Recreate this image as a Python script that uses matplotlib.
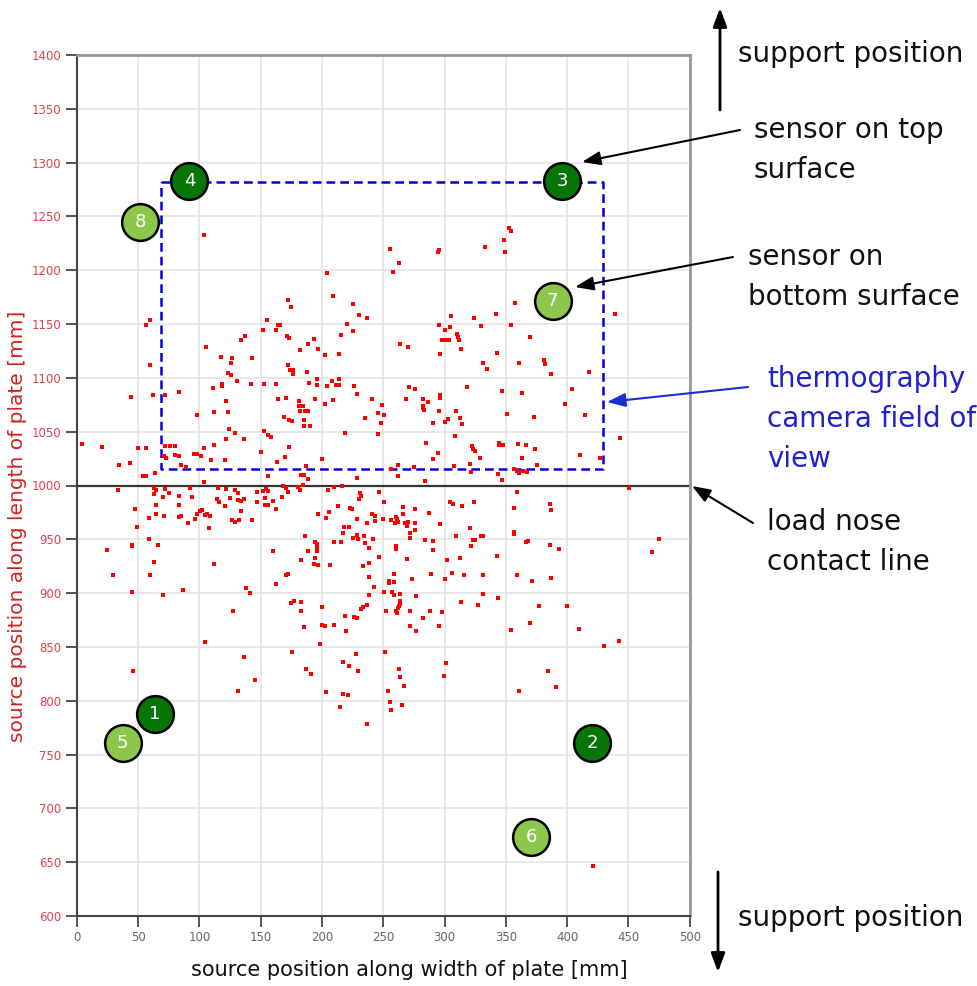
import matplotlib.pyplot as plt
import numpy as np

W, H = 978, 986

# located acoustic emission sources [mm]: (position along width, position along length)
events_upper_left = [
    (103.8, 1232.5), (60.0, 1153.7), (56.2, 1148.8), (105.4, 1128.5), (60.0, 1112.0), (134.0, 1135.6),
    (137.3, 1139.3), (155.4, 1153.7), (152.2, 1144.8), (162.7, 1144.8), (163.8, 1149.0), (117.8, 1119.6),
    (126.8, 1118.4), (125.4, 1114.0), (143.0, 1118.4), (123.4, 1104.6), (126.0, 1102.8), (131.0, 1097.0),
    (118.6, 1094.0), (118.6, 1092.5), (142.0, 1094.5), (152.6, 1094.5), (162.4, 1094.5), (111.5, 1090.5),
    (44.6, 1081.9), (62.2, 1084.0), (72.2, 1084.0), (83.2, 1086.5), (121.9, 1078.5), (163.8, 1080.4),
    (98.4, 1065.6), (111.6, 1068.7), (123.0, 1068.7), (123.8, 1052.5),
    (4.3, 1038.3), (20.5, 1035.6), (34.3, 1019.0), (43.8, 1021.2), (50.0, 1034.4), (56.2, 1034.4),
    (53.8, 1009.2), (56.2, 1008.6), (64.0, 1011.7), (72.2, 1036.5), (76.2, 1037.1), (80.5, 1037.1),
    (70.8, 1027.0), (72.4, 1026.0), (80.0, 1028.2), (83.2, 1027.0), (85.4, 1019.3), (89.2, 1016.9),
    (96.0, 1029.0), (98.1, 1029.0), (101.4, 1027.0), (103.8, 1034.4), (111.6, 1037.4), (109.7, 1023.9),
    (120.8, 1023.9), (121.9, 1043.6), (129.2, 1049.0), (136.8, 1043.6), (150.5, 1031.3), (152.4, 1050.3),
    (156.2, 1047.2), (158.1, 1044.8), (155.7, 1009.2), (163.2, 1021.5), (103.5, 1003.0),
]

events_lower_left = [
    (33.5, 995.7), (63.2, 997.5), (64.3, 995.7), (71.6, 997.0), (75.1, 993.3), (63.2, 992.0),
    (70.5, 989.6), (83.2, 989.9), (92.7, 997.9), (94.3, 989.6), (83.2, 982.2), (64.3, 981.6),
    (47.8, 977.9), (64.3, 973.9), (59.2, 969.6), (71.4, 972.0), (83.5, 970.9), (85.4, 972.0),
    (91.1, 964.7), (96.8, 969.0), (98.1, 973.3), (100.8, 976.0), (102.4, 977.3), (104.3, 972.4),
    (106.2, 973.3), (108.6, 971.8), (107.8, 960.4), (48.9, 961.0), (115.1, 997.9), (114.0, 987.7),
    (116.4, 984.7), (121.6, 996.3), (120.5, 981.3), (125.1, 988.3), (129.2, 995.7), (131.1, 993.3),
    (134.1, 985.3), (131.4, 986.5), (136.5, 987.7), (134.1, 976.7), (127.0, 967.5), (128.9, 966.3),
    (132.4, 967.5), (142.8, 967.5), (146.6, 993.9), (147.2, 984.4), (152.0, 994.5), (154.1, 996.3),
    (155.7, 994.5), (153.2, 988.3), (159.7, 985.9), (153.5, 981.6), (155.7, 982.2), (162.2, 977.9),
    (58.9, 950.3), (45.4, 945.1), (45.4, 943.6), (66.2, 945.1), (24.3, 940.5), (63.0, 928.8),
    (111.6, 927.3), (29.7, 916.6), (60.0, 916.6), (160.0, 939.3), (162.7, 908.9), (45.4, 901.2),
    (70.5, 898.2), (86.5, 902.5), (137.8, 904.9), (141.0, 900.0), (127.8, 883.7), (46.2, 828.1),
]

events_upper_mid = [
    (255.4, 1219.8), (294.6, 1217.3), (295.4, 1218.5), (262.9, 1207.1), (258.3, 1198.8), (203.8, 1197.2),
    (333.0, 1221.3), (172.0, 1172.5), (174.5, 1165.4), (208.9, 1176.5), (225.0, 1168.8), (230.4, 1158.6),
    (237.1, 1155.6), (220.7, 1150.0), (225.0, 1143.2), (215.9, 1139.5), (165.9, 1149.0), (171.2, 1139.2),
    (173.4, 1137.0), (193.3, 1135.8), (188.7, 1131.2), (181.7, 1125.6), (197.0, 1126.5), (202.7, 1121.3),
    (214.0, 1122.5), (172.0, 1112.0), (174.2, 1107.7), (176.3, 1107.7), (176.6, 1103.4), (187.4, 1105.9),
    (196.0, 1099.1), (189.8, 1095.4), (196.0, 1093.5), (204.0, 1092.3), (207.8, 1097.2), (213.7, 1098.8),
    (211.6, 1093.2), (213.7, 1093.2), (226.0, 1092.6), (228.5, 1084.9), (240.6, 1080.2), (208.6, 1079.6),
    (202.7, 1075.3), (194.1, 1080.2), (170.4, 1081.5), (181.5, 1078.7), (181.5, 1073.8), (184.7, 1073.8),
    (188.4, 1069.4), (186.3, 1068.8), (181.7, 1069.1), (169.3, 1063.2), (173.4, 1060.5), (175.6, 1059.6),
    (185.5, 1060.8), (185.5, 1055.2), (190.6, 1055.2), (249.2, 1074.4), (245.4, 1067.6), (250.8, 1065.1),
    (248.1, 1057.7), (235.2, 1062.3), (263.7, 1131.2), (270.4, 1128.4), (295.7, 1148.8), (304.6, 1147.5),
    (305.6, 1157.7), (300.3, 1144.8), (298.0, 1134.9), (300.0, 1134.9), (302.2, 1134.9), (304.0, 1134.9),
    (310.2, 1140.7), (311.0, 1137.7), (311.8, 1134.9), (313.8, 1126.5), (296.0, 1122.2), (323.7, 1155.6),
    (329.6, 1147.8), (331.2, 1114.2), (334.4, 1108.3), (271.2, 1091.4), (276.3, 1090.1), (268.3, 1080.0),
    (282.3, 1080.6), (286.6, 1077.5), (296.6, 1083.7), (295.9, 1081.0), (318.5, 1091.4), (282.3, 1074.0),
    (282.8, 1071.8), (283.3, 1070.0), (295.2, 1069.4), (309.5, 1069.1), (312.5, 1062.3), (300.3, 1059.3),
    (303.0, 1061.4), (290.3, 1057.7), (314.4, 1056.8),
    (173.2, 1035.6), (170.0, 1026.4), (199.7, 1024.2), (218.4, 1049.1), (245.4, 1047.9), (186.8, 1017.8),
    (183.0, 1009.5), (185.7, 1009.8), (188.9, 1006.1), (184.6, 1000.9), (228.6, 1007.1), (256.5, 1015.3),
    (262.2, 1019.0), (262.2, 1008.6), (275.4, 1017.2), (284.6, 1039.9), (294.9, 1030.1), (290.8, 1024.5),
    (284.0, 1004.0), (308.1, 1017.8), (308.4, 1046.0), (321.1, 1019.6), (321.9, 1012.9), (322.8, 1036.8),
    (323.6, 1034.0), (324.6, 1032.0), (328.6, 1025.2),
]

events_upper_right = [
    (352.3, 1239.1), (354.5, 1236.7), (348.5, 1228.3), (349.6, 1216.5), (357.8, 1169.7), (354.5, 1149.5),
    (341.7, 1159.4), (369.7, 1138.0), (343.0, 1123.1), (360.7, 1113.8), (380.9, 1116.9), (382.3, 1112.9),
    (386.9, 1103.9), (417.9, 1105.8), (439.1, 1159.4), (346.6, 1087.8), (362.9, 1085.6), (350.7, 1066.7),
    (373.3, 1063.6), (403.7, 1089.6), (398.0, 1076.0), (414.9, 1065.8), (443.5, 1044.0), (410.3, 1028.2),
    (426.9, 1025.8), (344.1, 1039.7), (344.1, 1037.5), (347.7, 1037.5), (359.7, 1038.8), (366.5, 1037.5),
    (374.1, 1033.8), (363.5, 1025.8), (375.7, 1018.9), (343.3, 1010.9), (346.6, 1005.0), (356.4, 1015.5),
    (359.1, 1013.3), (360.7, 1011.2), (363.7, 1013.3), (367.6, 1012.7),
]

events_lower_mid = [
    (168.4, 999.4), (170.5, 997.9), (172.7, 994.2), (167.8, 989.6), (180.8, 998.8), (182.4, 995.7),
    (205.1, 995.7), (209.7, 998.8), (216.0, 999.4),
    (230.8, 993.3), (231.6, 990.2), (230.5, 987.7), (246.2, 993.6), (250.8, 984.7), (213.0, 981.3),
    (223.0, 979.1), (224.1, 977.9), (205.4, 975.2), (196.8, 973.9), (203.2, 970.2), (228.6, 968.7),
    (240.8, 973.6), (243.0, 971.2), (243.5, 966.9), (236.5, 964.7), (250.0, 969.3), (256.0, 968.0),
    (260.0, 970.5), (261.4, 968.5), (262.0, 966.0), (259.2, 965.6), (265.9, 980.0), (265.9, 973.6),
    (275.7, 978.5), (268.1, 965.6), (270.5, 966.3), (269.5, 962.6), (276.0, 965.6), (276.0, 958.3),
    (271.6, 955.8), (271.6, 950.9), (287.0, 974.8), (296.5, 963.8), (304.6, 984.7), (306.5, 983.1),
    (314.3, 981.3), (324.3, 984.7), (320.8, 960.7), (309.5, 953.4), (321.6, 944.2), (323.5, 949.1),
    (325.1, 949.1), (329.7, 953.4), (331.6, 953.4), (217.6, 961.0), (221.9, 961.0), (217.3, 955.5),
    (209.7, 947.2), (215.9, 947.2), (225.7, 950.9), (228.4, 954.0), (229.5, 950.3), (234.6, 953.4),
    (241.4, 950.3), (235.2, 946.3), (238.6, 942.0), (260.3, 943.6), (260.3, 941.1), (246.2, 933.4),
    (269.7, 931.9), (283.8, 949.4), (290.5, 948.5), (290.5, 940.5), (302.2, 931.0), (312.4, 932.5),
    (186.5, 953.4), (194.6, 947.2), (196.2, 946.0), (196.0, 942.3), (196.0, 938.7), (188.6, 939.3),
    (194.0, 932.5), (193.5, 927.3), (197.0, 925.8), (183.0, 931.0), (206.2, 926.4), (233.2, 924.8),
    (238.6, 928.2), (238.1, 915.3), (170.5, 917.2), (172.4, 917.8), (242.2, 906.1), (238.6, 898.2),
    (258.4, 917.8), (254.9, 911.7), (254.9, 909.8), (258.9, 910.1), (273.8, 912.9), (288.9, 917.8),
    (300.0, 913.2), (306.2, 919.0), (315.9, 916.9), (331.1, 916.6), (250.3, 900.6), (257.3, 900.6),
    (258.6, 898.2), (263.5, 899.1), (277.0, 897.2), (263.5, 892.6), (263.5, 890.2), (262.7, 888.3),
    (260.3, 883.4), (261.4, 881.6), (262.4, 885.9), (252.2, 883.4), (233.8, 886.8), (236.5, 888.7),
    (231.6, 885.3), (226.5, 878.2), (228.9, 877.3), (218.9, 878.5), (199.7, 887.4), (174.6, 890.8),
    (177.0, 892.6), (183.0, 892.0), (183.0, 883.7), (209.5, 870.6), (200.0, 870.0), (202.7, 869.7),
    (185.4, 868.1), (219.7, 865.0), (271.6, 883.7), (271.6, 869.3), (276.5, 865.0), (282.2, 877.3),
    (288.1, 883.7), (297.6, 882.2), (295.4, 869.3), (313.2, 892.0), (327.3, 888.7), (331.1, 899.1),
    (104.6, 854.6), (175.4, 845.4), (198.6, 852.8), (136.1, 840.2), (145.6, 819.0), (131.1, 809.2),
    (186.6, 829.8), (190.7, 824.5), (216.9, 835.9), (222.4, 831.9), (228.1, 843.9), (229.2, 827.6),
    (203.0, 808.0), (216.9, 806.1), (221.6, 805.2), (215.0, 794.5), (236.9, 778.2), (251.1, 845.4),
    (263.1, 829.8), (263.9, 822.1), (266.7, 814.1), (254.1, 809.2), (255.2, 798.8), (256.3, 791.1),
    (265.6, 796.3), (301.4, 834.7), (299.7, 823.3),
]

events_lower_right = [
    (358.8, 994.1), (450.8, 997.8), (356.7, 978.7), (356.7, 957.1), (356.7, 954.6), (366.5, 947.8),
    (367.8, 948.1), (386.3, 982.4), (386.9, 976.9), (386.3, 944.8), (393.7, 941.4), (343.1, 934.9),
    (358.8, 917.3), (371.1, 911.4), (386.9, 913.9), (343.9, 895.4), (377.3, 888.0), (400.2, 888.0),
    (475.3, 950.0), (469.6, 938.3), (354.3, 865.3), (370.0, 872.5), (410.0, 866.3), (430.4, 851.3),
    (442.5, 855.6), (384.6, 828.1), (360.9, 809.4), (391.1, 812.8), (421.0, 646.6),
]

# sensors 1-4 on top surface, 5-8 on bottom surface
sensor_ids = ['1', '2', '3', '4', '5', '6', '7', '8']
sensor_x = [63.4, 420.3, 395.9, 91.8, 37.5, 370.8, 388.2, 51.6]
sensor_y = [788.1, 761.2, 1283.0, 1283.0, 761.2, 673.0, 1171.7, 1244.4]
sensor_face = ['top', 'top', 'top', 'top', 'bottom', 'bottom', 'bottom', 'bottom']

# thermography camera field of view: x from, x to, y from, y to
fov_x = [68.4, 429.0]
fov_y = [1015.3, 1282.4]
load_line_y = 1000

events = np.array(events_upper_left + events_lower_left + events_upper_mid
                  + events_upper_right + events_lower_mid + events_lower_right)

fig = plt.figure(figsize=(W / 100, H / 100), dpi=100)
ax = fig.add_axes([76.8 / W, 1 - 916 / H, 612.9 / W, 861 / H])

ax.set_xlim(0, 500)
ax.set_ylim(600, 1400)
ax.set_xticks(np.arange(0, 501, 50))
ax.set_yticks(np.arange(600, 1401, 50))
ax.grid(color='#e4e4e4', lw=1.2)
ax.set_axisbelow(True)

ax.tick_params(axis='both', direction='out', length=8, width=1.4, color='#555555',
               pad=3, labelsize=8.5)
ax.tick_params(axis='y', labelcolor='#e2404c')
ax.tick_params(axis='x', labelcolor='#666666')

for side in ['left', 'bottom']:
    ax.spines[side].set_color('#444444')
    ax.spines[side].set_linewidth(1.5)
for side in ['top', 'right']:
    ax.spines[side].set_color('#999999')
    ax.spines[side].set_linewidth(2)

# load nose contact line
ax.axhline(load_line_y, color='#333333', lw=1.6, zorder=2)

# camera field of view
ax.plot([fov_x[0], fov_x[1], fov_x[1], fov_x[0], fov_x[0]],
        [fov_y[1], fov_y[1], fov_y[0], fov_y[0], fov_y[1]],
        color='#0000dd', lw=1.8, ls=(0, (3.5, 2)), zorder=3)

ax.scatter(events[:, 0], events[:, 1], s=12, marker='s', c='#ff0000', linewidths=0, zorder=4)

for sid, sx, sy, face in zip(sensor_ids, sensor_x, sensor_y, sensor_face):
    col = '#087508' if face == 'top' else '#8cc64a'
    ax.scatter([sx], [sy], s=700, c=col, edgecolors='black', linewidths=1.8, zorder=5)
    ax.text(sx, sy, sid, color='white', ha='center', va='center', fontsize=13, zorder=6)

# axis labels
fig.text(18 / W, 1 - 526 / H, 'source position along length of plate [mm]', rotation=90,
         ha='center', va='center', color='#d42020', fontsize=14.5)
fig.text(409 / W, 1 - 970 / H, 'source position along width of plate [mm]',
         ha='center', va='center', color='#111111', fontsize=15)


def fp(x, y):
    return (x, H - y)


def arrow(x0, y0, x1, y1, color='black', lw=1.5, scale=14):
    ax.annotate('', xy=fp(x1, y1), xycoords='figure pixels',
                xytext=fp(x0, y0), textcoords='figure pixels',
                arrowprops=dict(arrowstyle='-|>,head_length=0.8,head_width=0.3',
                                color=color, lw=lw, mutation_scale=scale,
                                shrinkA=0, shrinkB=0),
                annotation_clip=False)


def note(lines, x, y0, color='#111111'):
    for i, line in enumerate(lines):
        fig.text(x / W, 1 - (y0 + 40 * i) / H, line, ha='left', va='baseline',
                 color=color, fontsize=20)


arrow(720, 110, 720, 8, lw=2)
note(['support position'], 738, 62)
arrow(718, 872, 718, 972, lw=2)
note(['support position'], 738, 926)

arrow(740, 130, 582, 162)
note(['sensor on top', 'surface'], 754, 138)

arrow(733, 257, 575, 287)
note(['sensor on', 'bottom surface'], 748, 265)

arrow(748, 387, 607, 402, color='#1a2ed8')
note(['thermography', 'camera field of', 'view'], 767, 387, color='#2222cc')

arrow(753, 523, 692, 486)
note(['load nose', 'contact line'], 767, 530)

fig.savefig('out.png', dpi=100)
